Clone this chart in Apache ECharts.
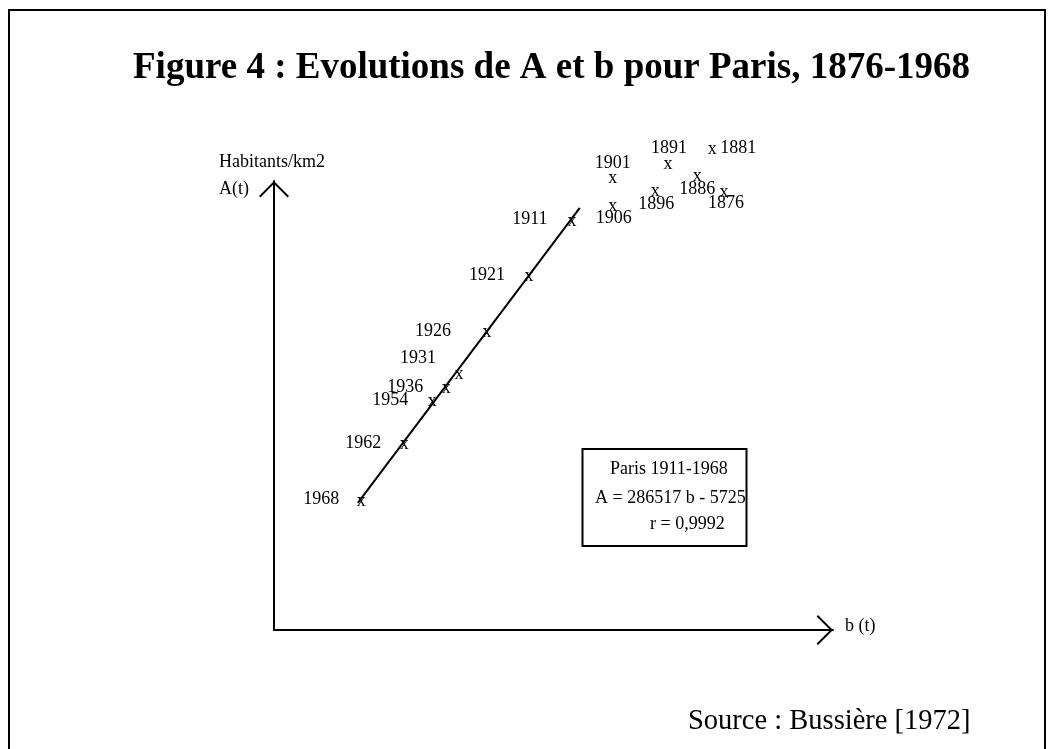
<!DOCTYPE html>
<html>
<head>
<meta charset="utf-8">
<title>Figure 4</title>
<script src="https://cdn.jsdelivr.net/npm/echarts@6/dist/echarts.min.js"></script>
<style>
  html, body { margin: 0; padding: 0; background: #fff; }
  #chart { width: 1053px; height: 749px; }
</style>
</head>
<body>
<div id="chart"></div>
<script>
// annees et valeurs (unites arbitraires)
var years = ["1968", "1962", "1954", "1936", "1931", "1926", "1921", "1911",
             "1906", "1901", "1896", "1891", "1886", "1881", "1876"];
var bValues = [15.6, 23.3, 28.3, 30.8, 33.1, 38.1, 45.6, 53.3,
               60.6, 60.6, 68.2, 70.5, 75.7, 78.4, 80.5];
var aValues = [29.0, 41.6, 51.2, 54.1, 57.2, 66.6, 79.1, 91.3,
               94.7, 100.9, 98.0, 104.0, 101.3, 107.3, 97.8];
// droite d'ajustement 1911-1968
var fitB = [15.0, 54.7];
var fitA = [28.3, 94.0];
var boxLines = ["Paris 1911-1968", "A = 286517 b - 5725", "r = 0,9992"];

var serif = "'Liberation Serif', 'Times New Roman', serif";

// decalage de l'etiquette par rapport a la croix
var labelOffset = {
  "1968": [-40, -1], "1962": [-41, 0], "1954": [-42, 0], "1936": [-41, 0],
  "1931": [-41, -15], "1926": [-54, 0], "1921": [-42, 0], "1911": [-42, -1],
  "1906": [1, 13], "1901": [0, -14], "1896": [1, 14], "1891": [1, -15],
  "1886": [0, 14], "1881": [26, 0], "1876": [2, 12]
};

var points = [];
var yearPoints = [];
for (var i = 0; i < years.length; i++) {
  points.push([bValues[i], aValues[i]]);
  yearPoints.push({
    value: [bValues[i], aValues[i]],
    name: years[i],
    label: { offset: labelOffset[years[i]] }
  });
}
var fitData = [[fitB[0], fitA[0]], [fitB[1], fitA[1]]];

// chevron ouvert pour les fleches des axes
var chevron = "path://M0,15 L15,0 L30,15 L28.6,16.4 L15,2.8 L1.4,16.4 Z";

var textLabel = {
  show: true,
  position: "inside",
  color: "#000",
  opacity: 1,
  fontFamily: serif,
  fontSize: 18,
  textBorderWidth: 0,
  textBorderColor: "transparent",
  textShadowBlur: 0
};

var chart = echarts.init(document.getElementById("chart"));
var option = {
  backgroundColor: "#fff",
  animation: false,
  grid: { left: 274, right: 220, top: 181, bottom: 119 },
  xAxis: {
    type: "value",
    min: 0,
    max: 100,
    axisLine: {
      show: true,
      symbol: ["none", chevron],
      symbolSize: [30, 16.4],
      symbolOffset: [0, -8.2],
      lineStyle: { color: "#000", width: 2 }
    },
    axisTick: { show: false },
    axisLabel: { show: false },
    splitLine: { show: false }
  },
  yAxis: {
    type: "value",
    min: 0,
    max: 100,
    axisLine: {
      show: true,
      symbol: ["none", chevron],
      symbolSize: [30, 16.4],
      symbolOffset: [0, -8.2],
      lineStyle: { color: "#000", width: 2 }
    },
    axisTick: { show: false },
    axisLabel: { show: false },
    splitLine: { show: false }
  },
  series: [
    {
      type: "line",
      data: fitData,
      symbol: "none",
      lineStyle: { color: "#000", width: 2 },
      z: 1
    },
    {
      // les croix
      type: "scatter",
      data: points,
      clip: false,
      symbolSize: 1,
      itemStyle: { color: "rgba(0,0,0,0)", opacity: 1 },
      label: Object.assign({}, textLabel, { formatter: "x", offset: [0, 1] }),
      emphasis: { disabled: true },
      z: 3
    },
    {
      // les annees
      type: "scatter",
      data: yearPoints,
      clip: false,
      symbolSize: 1,
      itemStyle: { color: "rgba(0,0,0,0)", opacity: 1 },
      label: Object.assign({}, textLabel, { formatter: "{b}" }),
      emphasis: { disabled: true },
      z: 3
    }
  ],
  graphic: [
    {
      type: "rect",
      shape: { x: 9, y: 10, width: 1036, height: 760 },
      style: { fill: "none", stroke: "#000", lineWidth: 2 },
      silent: true
    },
    {
      type: "text",
      x: 551.5, y: 68,
      style: {
        text: "Figure 4 : Evolutions de A et b pour Paris, 1876-1968",
        font: "bold 37px " + serif,
        fill: "#000",
        textAlign: "center",
        textVerticalAlign: "middle"
      }
    },
    {
      type: "text",
      x: 219, y: 162,
      style: { text: "Habitants/km2", font: "18px " + serif, fill: "#000", textVerticalAlign: "middle" }
    },
    {
      type: "text",
      x: 219, y: 189,
      style: { text: "A(t)", font: "18px " + serif, fill: "#000", textVerticalAlign: "middle" }
    },
    {
      type: "text",
      x: 845, y: 626,
      style: { text: "b (t)", font: "18px " + serif, fill: "#000", textVerticalAlign: "middle" }
    },
    {
      type: "text",
      x: 688, y: 722,
      style: { text: "Source : Bussière [1972]", font: "28.5px " + serif, fill: "#000", textVerticalAlign: "middle" }
    },
    // encadre de la regression
    {
      type: "text",
      x: 610, y: 469,
      style: { text: boxLines[0], font: "18px " + serif, fill: "#000", textVerticalAlign: "middle" }
    },
    {
      type: "text",
      x: 595, y: 498,
      style: { text: boxLines[1], font: "18px " + serif, fill: "#000", textVerticalAlign: "middle" }
    },
    {
      type: "text",
      x: 650, y: 524,
      style: { text: boxLines[2], font: "18px " + serif, fill: "#000", textVerticalAlign: "middle" }
    },
    {
      type: "rect",
      z: 10,
      shape: { x: 582.5, y: 449, width: 164, height: 97 },
      style: { fill: "none", stroke: "#000", lineWidth: 2 },
      silent: true
    }
  ]
};
chart.setOption(option);
</script>
</body>
</html>
